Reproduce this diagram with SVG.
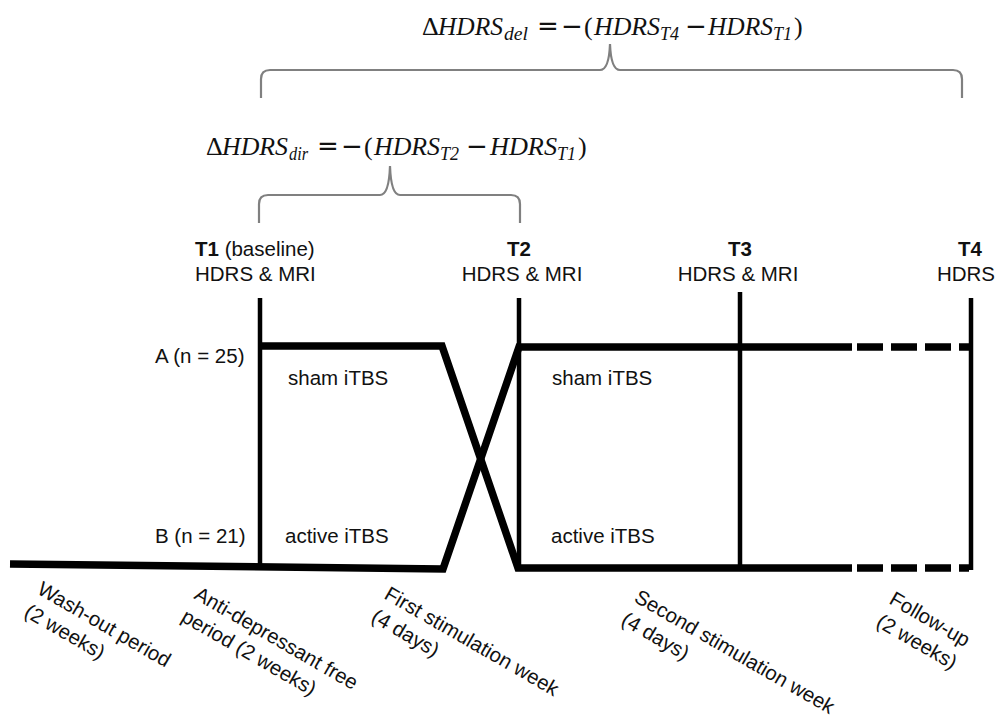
<svg xmlns="http://www.w3.org/2000/svg" width="995" height="724" viewBox="0 0 995 724">
  <style>
    .lbl { font-family: "Liberation Sans", Arial, sans-serif; font-size: 20.5px; fill: #111; }
    .b { font-weight: bold; }
    .math { font-family: "Liberation Serif", "Times New Roman", serif; font-style: italic; font-size: 26px; fill: #111; }
    .up { font-style: normal; }
    .op { font-family: "DejaVu Sans", sans-serif; font-style: normal; font-size: 26px; }
    .sub { font-size: 18px; }
    .brace { fill: none; stroke: #808080; stroke-width: 2.2; }
    .track { fill: none; stroke: #000; stroke-width: 7.5; stroke-linejoin: miter; }
    .dash { fill: none; stroke: #000; stroke-width: 7.5; stroke-dasharray: 26 8; }
    .tick { fill: none; stroke: #000; stroke-width: 4.5; }
  </style>

  <!-- formulas -->
  <g id="formula-del">
    <text class="math"><tspan class="up" x="422" y="35">Δ</tspan><tspan x="438" y="35" textLength="65" lengthAdjust="spacingAndGlyphs">HDRS</tspan><tspan class="sub" x="504" y="40" textLength="24" lengthAdjust="spacingAndGlyphs">del</tspan><tspan class="op" x="537" y="35">=</tspan><tspan class="op" x="561" y="35">−</tspan><tspan class="up" x="584" y="35">(</tspan><tspan x="594" y="35" textLength="66" lengthAdjust="spacingAndGlyphs">HDRS</tspan><tspan class="sub" x="660" y="40">T4</tspan><tspan class="op" x="685" y="35">−</tspan><tspan x="708" y="35" textLength="65" lengthAdjust="spacingAndGlyphs">HDRS</tspan><tspan class="sub" x="773" y="40">T1</tspan><tspan class="up" x="794" y="35">)</tspan></text>
  </g>
  <g id="formula-dir">
    <text class="math"><tspan class="up" x="206" y="155">Δ</tspan><tspan x="222" y="155" textLength="66" lengthAdjust="spacingAndGlyphs">HDRS</tspan><tspan class="sub" x="289" y="160" textLength="19" lengthAdjust="spacingAndGlyphs">dir</tspan><tspan class="op" x="317" y="155">=</tspan><tspan class="op" x="341" y="155">−</tspan><tspan class="up" x="364" y="155">(</tspan><tspan x="374" y="155" textLength="66" lengthAdjust="spacingAndGlyphs">HDRS</tspan><tspan class="sub" x="440" y="160">T2</tspan><tspan class="op" x="466" y="155">−</tspan><tspan x="490" y="155" textLength="67" lengthAdjust="spacingAndGlyphs">HDRS</tspan><tspan class="sub" x="557" y="160">T1</tspan><tspan class="up" x="578" y="155">)</tspan></text>
  </g>

  <!-- braces -->
  <g id="braces">
    <path class="brace" d="M261,98 L261,79 Q261,70 270,70 L600,70 Q609,70 610,44 Q611,70 620,70 L953,70 Q962,70 962,79 L962,98"/>
    <path class="brace" d="M259,223 L259,204 Q259,195 268,195 L380,195 Q389,195 390,166 Q391,195 400,195 L511,195 Q520,195 520,204 L520,223"/>
  </g>

  <!-- time point labels -->
  <g id="t1">
    <text class="lbl" x="195" y="256"><tspan class="b">T1</tspan> (baseline)</text>
    <text class="lbl" x="195" y="281">HDRS &amp; MRI</text>
  </g>
  <g id="t2">
    <text class="lbl b" x="519" y="256" text-anchor="middle">T2</text>
    <text class="lbl" x="522" y="281" text-anchor="middle">HDRS &amp; MRI</text>
  </g>
  <g id="t3">
    <text class="lbl b" x="740" y="256" text-anchor="middle">T3</text>
    <text class="lbl" x="738" y="281" text-anchor="middle">HDRS &amp; MRI</text>
  </g>
  <g id="t4">
    <text class="lbl b" x="970" y="256" text-anchor="middle">T4</text>
    <text class="lbl" x="966" y="281" text-anchor="middle">HDRS</text>
  </g>

  <!-- group and condition labels -->
  <g id="groups">
    <text class="lbl" x="155" y="363">A (n = 25)</text>
    <text class="lbl" x="155" y="543">B (n = 21)</text>
    <text class="lbl" x="288" y="385">sham iTBS</text>
    <text class="lbl" x="285" y="543">active iTBS</text>
    <text class="lbl" x="552" y="385">sham iTBS</text>
    <text class="lbl" x="551" y="543">active iTBS</text>
  </g>

  <!-- timeline tracks -->
  <g id="connectors">
    <line class="tick" x1="260" y1="298" x2="260" y2="568"/>
    <line class="tick" x1="519" y1="298" x2="519" y2="569"/>
    <line class="tick" x1="740" y1="292" x2="740" y2="566"/>
    <line class="tick" x1="971" y1="298" x2="971" y2="570"/>
    <path class="track" d="M258,346 L442,346 L518,568 L852,568"/>
    <path class="track" d="M10,564 L443,569 L519,347 L852,347"/>
    <line class="dash" x1="857" y1="347" x2="969" y2="347"/>
    <line class="dash" x1="857" y1="568" x2="969" y2="568"/>
  </g>

  <!-- phase labels -->
  <g id="phases">
    <text class="lbl" transform="translate(36,593) rotate(30)"><tspan x="0" y="0">Wash-out period</tspan><tspan x="0" dy="26">(2 weeks)</tspan></text>
    <text class="lbl" transform="translate(193,598) rotate(30)"><tspan x="0" y="0">Anti-depressant free</tspan><tspan x="0" dy="26">period (2 weeks)</tspan></text>
    <text class="lbl" transform="translate(383,598) rotate(30)"><tspan x="0" y="0">First stimulation week</tspan><tspan x="0" dy="26">(4 days)</tspan></text>
    <text class="lbl" transform="translate(633,601) rotate(30)"><tspan x="0" y="0">Second stimulation week</tspan><tspan x="0" dy="26">(4 days)</tspan></text>
    <text class="lbl" transform="translate(888,603) rotate(30)"><tspan x="0" y="0">Follow-up</tspan><tspan x="0" dy="26">(2 weeks)</tspan></text>
  </g>
</svg>
